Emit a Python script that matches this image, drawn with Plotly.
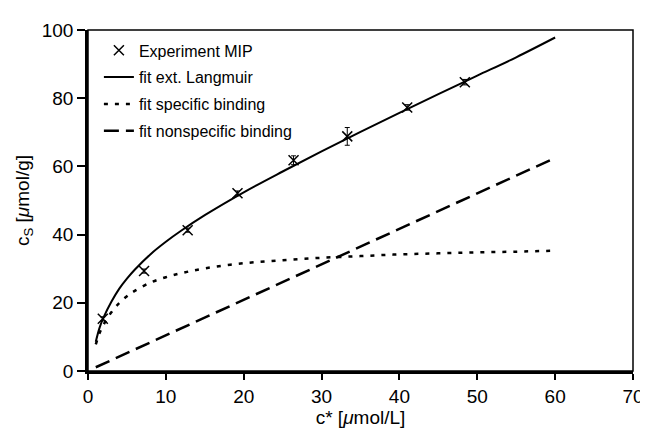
import plotly.graph_objects as go

exp_c = [1.9, 7.2, 12.8, 19.2, 26.4, 33.3, 41.0, 48.4]
exp_q = [15.3, 29.3, 41.3, 52.1, 61.8, 68.8, 77.3, 84.7]
exp_err = [0.6, 0.6, 0.6, 0.7, 1.3, 2.6, 0.8, 0.8]

# Fitted curves
fit_c = [1.0, 1.5, 2, 3, 4, 5, 6, 8, 10, 12, 15, 20, 25, 30, 35, 40, 45, 50, 55, 60]
fit_langmuir = [8.6, 12.8, 15.7, 20.3, 24.1, 27.1, 29.7, 34.2, 37.9, 41.2, 45.7,
                52.4, 58.5, 64.4, 70.1, 75.7, 81.2, 86.6, 92.0, 97.8]
fit_specific = [7.8, 11.2, 13.6, 17.2, 19.9, 21.9, 23.5, 25.9, 27.5, 28.7, 30.1,
                31.6, 32.5, 33.2, 33.7, 34.2, 34.5, 34.8, 35.0, 35.3]
nonspec_c = [1.0, 60]
nonspec_q = [1.1, 62.5]

x_ticks = [0, 10, 20, 30, 40, 50, 60, 70]
y_ticks = [0, 20, 40, 60, 80, 100]

FONT = "Liberation Sans, Arial, sans-serif"

fig = go.Figure()
fig.add_trace(go.Scatter(
    x=exp_c, y=exp_q, mode="markers", name="Experiment MIP", legendgroup="a",
    marker=dict(symbol="x-thin", size=10, line=dict(color="black", width=1.5), color="black"),
    error_y=dict(type="data", array=exp_err, color="black", thickness=1, width=2.5),
))
fig.add_trace(go.Scatter(
    x=fit_c, y=fit_langmuir, mode="lines", name="fit ext. Langmuir", legendgroup="b",
    line=dict(color="black", width=2, shape="spline"),
))
fig.add_trace(go.Scatter(
    x=fit_c, y=fit_specific, mode="lines", name="fit specific binding", legendgroup="c",
    line=dict(color="black", width=2.5, dash="4px,7px", shape="spline"),
))
fig.add_trace(go.Scatter(
    x=nonspec_c, y=nonspec_q, mode="lines", name="fit nonspecific binding", legendgroup="d",
    line=dict(color="black", width=2.5, dash="15px,7px"),
))

fig.update_layout(
    width=648, height=428,
    margin=dict(l=80, r=12, t=22, b=60),
    paper_bgcolor="white", plot_bgcolor="white",
    font=dict(family=FONT, color="black", size=19),
    showlegend=True,
    legend=dict(x=0.02, y=0.99, xanchor="left", yanchor="top",
                traceorder="grouped", tracegroupgap=3,
                bgcolor="rgba(0,0,0,0)", font=dict(size=16, family=FONT)),
    xaxis=dict(
        range=[0, 70], tickvals=x_ticks, showgrid=False, zeroline=False,
        showline=True, linecolor="black", linewidth=2.5,
        ticks="outside", ticklen=6, tickwidth=1.5, tickcolor="black",
        title=dict(text="c* [<i>μ</i>mol/L]", font=dict(size=19), standoff=4),
    ),
    yaxis=dict(
        range=[0, 100], tickvals=y_ticks, showgrid=False, zeroline=False,
        showline=True, linecolor="black", linewidth=2.5,
        ticks="outside", ticklen=8, tickwidth=1.5, tickcolor="black",
        title=dict(text="c<sub>S</sub> [<i>μ</i>mol/g]", font=dict(size=19), standoff=8),
    ),
    shapes=[dict(type="rect", xref="paper", yref="paper", x0=0, y0=0, x1=1, y1=1,
                 line=dict(color="black", width=1.5), layer="above")],
)

fig.write_html("out.html")
